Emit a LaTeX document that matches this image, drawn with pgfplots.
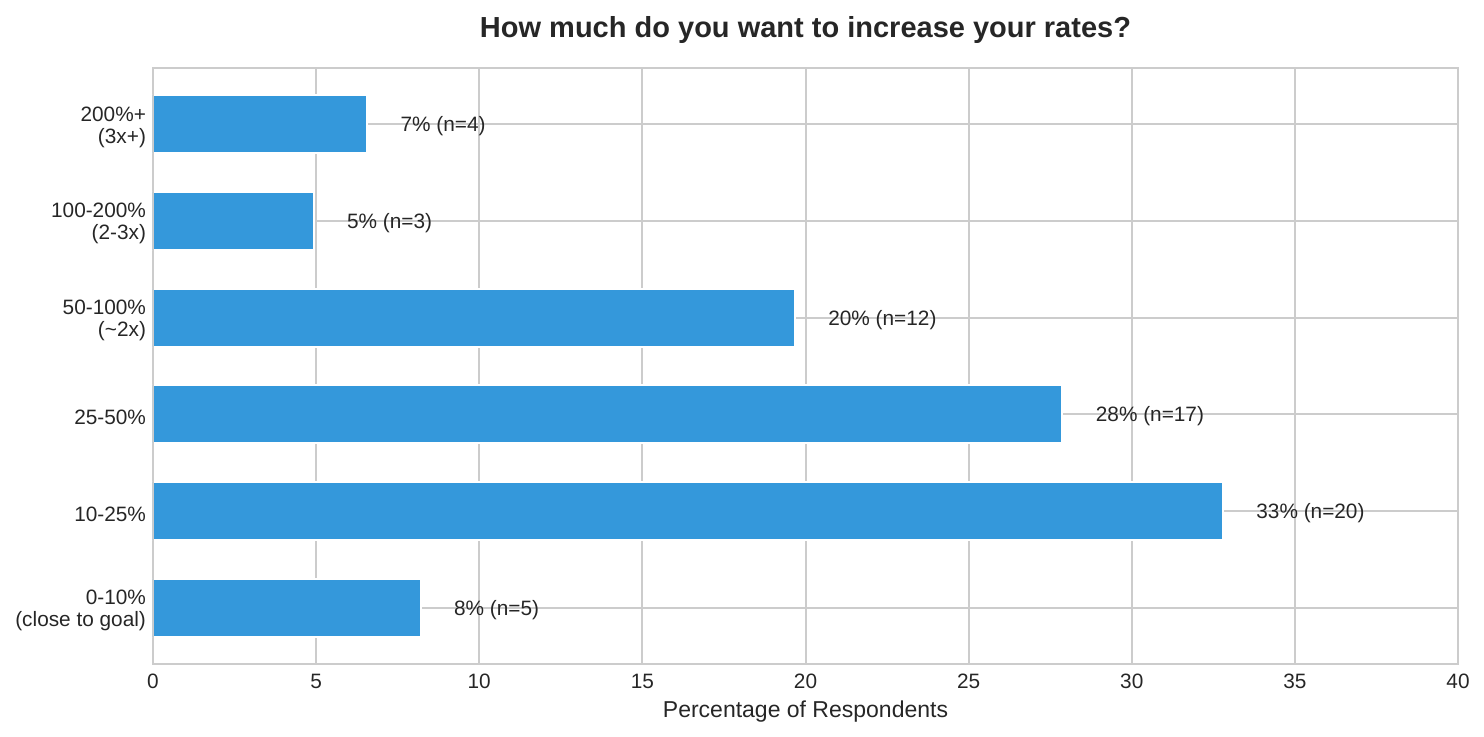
\documentclass[border=0pt]{standalone}
\usepackage{fontspec}
\setmainfont{Liberation Sans}
\usepackage{pgfplots}
\pgfplotsset{compat=1.18}
\definecolor{barblue}{HTML}{3498DB}
\definecolor{gridgray}{HTML}{CCCCCC}
\definecolor{txt}{HTML}{262626}

\begin{document}
\begin{tikzpicture}
\begin{axis}[
    name=ax,
    scale only axis,
    width=652.5bp, height=298bp,
    xbar, bar width=0.6,
    xmin=0, xmax=40, ymin=-0.58, ymax=5.58,
    xtick={0,5,...,40},
    ytick={0,...,5},
    yticklabels={{0-10\%\\(close to goal)},{10-25\%},{25-50\%},{50-100\%\\(\textasciitilde2x)},{100-200\%\\(2-3x)},{200\%+\\(3x+)}},
    yticklabel style={align=right, font=\fontsize{10.4bp}{11bp}\selectfont, text=txt, yshift=-1.5bp},
    xticklabel style={font=\fontsize{10.4bp}{12bp}\selectfont, text=txt, yshift=-1.5bp},
    /pgf/number format/assume math mode=true,
    major tick length=0pt,
    grid=major,
    grid style={gridgray, line width=1bp},
    axis line style={gridgray, line width=1bp},
    xlabel={Percentage of Respondents},
    xlabel style={at={(axis description cs:0.5,0)}, anchor=base, yshift=-26.5bp,
        font=\fontsize{11.5bp}{13bp}\selectfont, text=txt},
    title={How much do you want to increase your rates?},
    title style={at={(axis description cs:0.5,1)}, anchor=base, yshift=9.5bp,
        font=\fontsize{14.5bp}{17bp}\selectfont\bfseries, text=txt},
]
\addplot[fill=barblue, draw=white, line width=1bp,
    nodes near coords, point meta=explicit symbolic,
    every node near coord/.append style={anchor=west, inner sep=0pt, xshift=16.31bp, yshift=-1bp,
        font=\fontsize{10.4bp}{12bp}\selectfont, text=txt}]
    coordinates {
        (8.20,0) [8\% (n=5)]
        (32.79,1) [33\% (n=20)]
        (27.87,2) [28\% (n=17)]
        (19.67,3) [20\% (n=12)]
        (4.92,4) [5\% (n=3)]
        (6.56,5) [7\% (n=4)]
    };
\draw[gridgray, line width=1bp] (rel axis cs:0,0) -- (rel axis cs:0,1);
\end{axis}
\path ([shift={(-76.5bp,-36.5bp)}]ax.south west) rectangle ([shift={(13bp,34bp)}]ax.north east);
\end{tikzpicture}
\end{document}
